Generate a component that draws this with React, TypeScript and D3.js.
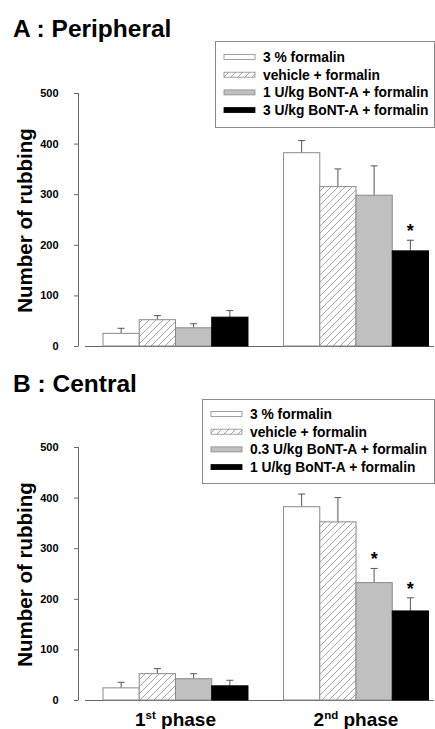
import React from 'react';
import * as d3 from 'd3';

const W = 435;
const H = 729;
const FONT = '"Liberation Sans", Arial, Helvetica, sans-serif';

// data
const phases = ['1st', '2nd'];
const fills = ['white', 'hatch', 'gray', 'black'];

const legendA = ['3 % formalin', 'vehicle + formalin', '1 U/kg BoNT-A + formalin', '3 U/kg BoNT-A + formalin'];
const meansA = [[25, 52, 36, 57], [382, 315, 298, 188]];
const errsA = [[10, 8, 8, 13], [24, 35, 58, 21]];
const sigA = [[false, false, false, false], [false, false, false, true]];

const legendB = ['3 % formalin', 'vehicle + formalin', '0.3 U/kg BoNT-A + formalin', '1 U/kg BoNT-A + formalin'];
const meansB = [[24, 52, 42, 28], [382, 352, 232, 176]];
const errsB = [[11, 10, 10, 11], [25, 48, 28, 26]];
const sigB = [[false, false, false, false], [false, false, true, true]];

const yTicks = [0, 100, 200, 300, 400, 500];

const fillFor = (f: string) =>
  f === 'white' ? '#ffffff' : f === 'hatch' ? 'url(#hatch)' : f === 'gray' ? '#c0c0c0' : '#000000';
const strokeFor = (f: string) => (f === 'black' ? '#000' : '#8a8a8a');

const xOuter = d3.scaleBand<string>().domain(phases).range([103, 428.5]).paddingInner(0.197).paddingOuter(0);
const xInner = d3.scaleBand<string>().domain(fills).range([0, xOuter.bandwidth()]).padding(0);

type PanelProps = {
  title: string;
  titleY: number;
  y0: number;
  legend: string[];
  legendBox: [number, number, number, number]; // x, top, bottom, first row
  means: number[][];
  errs: number[][];
  sig: boolean[][];
  showX: boolean;
};

function Panel({ title, titleY, y0, legend, legendBox, means, errs, sig, showX }: PanelProps) {
  const y = d3.scaleLinear().domain([0, 500]).range([y0, y0 - 253]);
  const [lx, ltop, lbot, lrow] = legendBox;
  const axisColor = '#666';

  return (
    <g>
      <text x={13} y={titleY} fontFamily={FONT} fontWeight="bold" fontSize={24.5} fill="#000">
        {title}
      </text>

      {/* y axis */}
      <line x1={78.5} x2={78.5} y1={y(0)} y2={y(500)} stroke={axisColor} strokeWidth={1} />
      {yTicks.map(t => (
        <g key={t}>
          <line x1={74} x2={78.5} y1={y(t) + 0.5} y2={y(t) + 0.5} stroke={axisColor} />
          <text x={58.5} y={y(t) + 4} textAnchor="end" fontFamily={FONT} fontWeight="bold" fontSize={11}>
            {t}
          </text>
        </g>
      ))}
      <text
        transform={`translate(32,${y(250) + 1}) rotate(-90)`}
        textAnchor="middle"
        fontFamily={FONT}
        fontWeight="bold"
        fontSize={20.5}
      >
        Number of rubbing
      </text>

      {/* x axis */}
      <line x1={85} x2={434} y1={y0 + 0.5} y2={y0 + 0.5} stroke={axisColor} />

      {/* bars */}
      {phases.map((p, pi) =>
        fills.map((f, si) => {
          const x = (xOuter(p) ?? 0) + (xInner(f) ?? 0);
          const bw = xInner.bandwidth();
          const top = y(means[pi][si]);
          const cap = y(means[pi][si] + errs[pi][si]);
          const cx = x + bw / 2;
          return (
            <g key={`${p}-${f}`}>
              <line x1={cx} x2={cx} y1={top} y2={cap} stroke="#555" />
              <line x1={cx - 3.5} x2={cx + 3.5} y1={cap} y2={cap} stroke="#555" />
              <rect x={x} y={top} width={bw} height={y0 - top} fill={fillFor(f)} stroke={strokeFor(f)} strokeWidth={1} />
              {sig[pi][si] && (
                <text x={cx} y={cap - 3} textAnchor="middle" fontFamily={FONT} fontWeight="bold" fontSize={18}>
                  *
                </text>
              )}
            </g>
          );
        })
      )}

      {/* legend */}
      <rect x={lx + 0.5} y={ltop + 0.5} width={434 - lx} height={lbot - ltop} fill="#fff" stroke="#8a8a8a" />
      {legend.map((name, i) => {
        const cy = lrow + i * 17.7;
        return (
          <g key={name}>
            <rect x={lx + 9} y={cy - 2.5} width={31} height={5} fill={fillFor(fills[i])} stroke={strokeFor(fills[i])} strokeWidth={0.8} />
            <text x={lx + 48} y={cy + 4.9} fontFamily={FONT} fontWeight="bold" fontSize={13.8}>
              {name}
            </text>
          </g>
        );
      })}

      {showX &&
        phases.map(p => (
          <text
            key={p}
            x={(xOuter(p) ?? 0) + xOuter.bandwidth() / 2}
            y={y0 + 26}
            textAnchor="middle"
            fontFamily={FONT}
            fontWeight="bold"
            fontSize={19}
          >
            {p.slice(0, 1)}
            <tspan fontSize={11.5} dy={-7.5}>{p.slice(1)}</tspan>
            <tspan dy={7.5}> phase</tspan>
          </text>
        ))}
    </g>
  );
}

export default function App() {
  return (
    <svg
      width={W}
      height={H}
      style={{ position: 'absolute', left: 0, top: 0, background: '#fff' }}
    >
      <defs>
        <pattern id="hatch" patternUnits="userSpaceOnUse" width={7} height={7}>
          <rect width={7} height={7} fill="#fff" />
          <path d="M-1,8 L8,-1 M-1,1 L1,-1 M6,8 L8,6" stroke="#8a8a8a" strokeWidth={0.8} />
        </pattern>
      </defs>
      <Panel
        title="A : Peripheral"
        titleY={36.5}
        y0={346}
        legend={legendA}
        legendBox={[215, 41, 127, 57]}
        means={meansA}
        errs={errsA}
        sig={sigA}
        showX={false}
      />
      <Panel
        title="B : Central"
        titleY={392}
        y0={700}
        legend={legendB}
        legendBox={[202, 399, 483, 414]}
        means={meansB}
        errs={errsB}
        sig={sigB}
        showX={true}
      />
    </svg>
  );
}
